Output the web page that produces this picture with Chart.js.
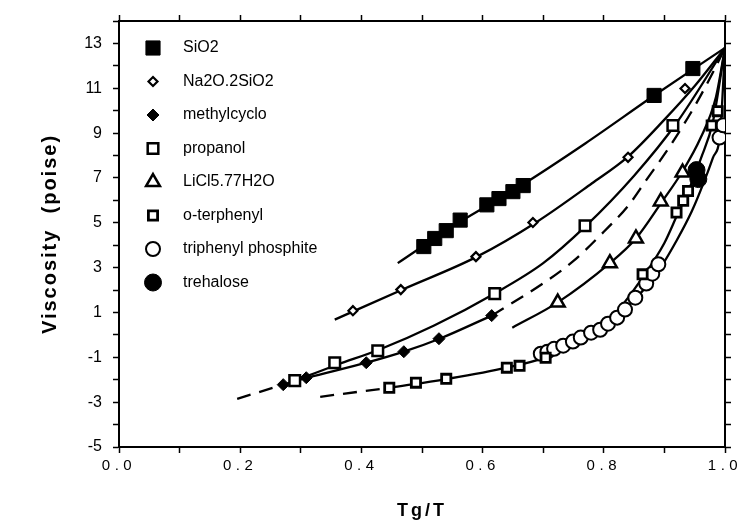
<!DOCTYPE html>
<html>
<head>
<meta charset="utf-8">
<title>Viscosity vs Tg/T</title>
<script src="https://cdn.jsdelivr.net/npm/chart.js@4.4.1/dist/chart.umd.min.js"></script>
<style>
  html, body { margin: 0; padding: 0; background: #fff; }
</style>
</head>
<body>
<canvas id="chart" width="744" height="532"></canvas>
<script>
// measured points, [Tg/T, log viscosity]
const sio2 = [[0.503, 3.94], [0.521, 4.30], [0.540, 4.65], [0.563, 5.12], [0.607, 5.80], [0.627, 6.08], [0.650, 6.39], [0.667, 6.66], [0.883, 10.68], [0.947, 11.88]];
const na2o = [[0.386, 1.08], [0.465, 2.02], [0.589, 3.49], [0.683, 5.01], [0.840, 7.92], [0.934, 10.99]];
const methylcyclo = [[0.271, -2.22], [0.309, -1.91], [0.408, -1.24], [0.470, -0.75], [0.528, -0.17], [0.615, 0.86]];
const propanol = [[0.290, -2.04], [0.356, -1.24], [0.427, -0.71], [0.620, 1.84], [0.769, 4.87], [0.914, 9.34]];
const licl = [[0.724, 1.44], [0.810, 3.20], [0.853, 4.30], [0.894, 5.95], [0.930, 7.24]];
const oTerphenyl = [[0.446, -2.36], [0.490, -2.13], [0.540, -1.96], [0.640, -1.46], [0.661, -1.38], [0.704, -1.02], [0.864, 2.70], [0.920, 5.46], [0.931, 5.98], [0.939, 6.42], [0.978, 9.34], [0.988, 9.98]];
const triphenyl = [[0.696, -0.84], [0.707, -0.75], [0.718, -0.62], [0.733, -0.48], [0.749, -0.30], [0.762, -0.12], [0.779, 0.10], [0.794, 0.23], [0.807, 0.50], [0.822, 0.77], [0.835, 1.13], [0.852, 1.66], [0.870, 2.29], [0.880, 2.73], [0.890, 3.15], [0.991, 8.80], [0.997, 9.35]];
const trehalose = [[0.953, 7.35], [0.956, 6.95]];

// fitted curves
const sio2Fit = [[0.46, 3.2], [0.56, 5.0], [0.66, 6.6], [0.77, 8.55], [0.88, 10.62], [0.95, 11.9], [1.0, 12.8]];
const na2oFit = [[0.356, 0.68], [0.47, 2.05], [0.59, 3.48], [0.69, 5.05], [0.78, 6.75], [0.84, 7.95], [0.90, 9.6], [0.95, 11.1], [1.0, 12.8]];
const methylFit = [[0.271, -2.22], [0.31, -1.92], [0.41, -1.23], [0.47, -0.75], [0.53, -0.16], [0.615, 0.86]];
const methylLow = [[0.195, -2.85], [0.271, -2.22]];
const methylHigh = [[0.615, 0.86], [0.70, 2.3], [0.75, 3.3], [0.80, 4.6], [0.84, 5.75], [0.87, 6.9], [0.91, 8.45], [0.95, 10.2], [0.98, 11.7], [1.0, 12.8]];
const propanolFit = [[0.285, -2.1], [0.36, -1.33], [0.43, -0.65], [0.52, 0.42], [0.62, 1.85], [0.70, 3.2], [0.77, 4.85], [0.85, 7.1], [0.92, 9.45], [1.0, 12.8]];
const liclFit = [[0.649, 0.32], [0.724, 1.45], [0.81, 3.2], [0.853, 4.3], [0.895, 5.9], [0.93, 7.3], [0.96, 8.8], [0.985, 10.6], [1.0, 12.8]];
const otpLow = [[0.332, -2.76], [0.446, -2.36]];
const otpFit = [[0.446, -2.36], [0.54, -1.97], [0.64, -1.46], [0.704, -1.0], [0.76, -0.3], [0.82, 1.0], [0.865, 2.6], [0.90, 4.1], [0.922, 5.4], [0.94, 6.45], [0.96, 7.85], [0.98, 9.5], [1.0, 12.8]];
const tppFit = [[0.696, -0.84], [0.75, -0.32], [0.80, 0.35], [0.85, 1.55], [0.89, 2.85], [0.92, 4.2], [0.945, 5.5], [0.965, 6.8], [0.98, 7.9], [0.992, 9.0], [1.0, 12.8]];

const xLabels = ['0.0', '0.2', '0.4', '0.6', '0.8', '1.0'];
const yLabels = ['-5', '-3', '-1', '1', '3', '5', '7', '9', '11', '13'];

const FONT = '"Liberation Sans", Arial, Helvetica, sans-serif';
const toXY = arr => arr.map(p => ({ x: p[0], y: p[1] }));

function marks(label, pts, style, radius, filled, border) {
  return {
    label: label,
    data: toXY(pts),
    pointStyle: style,
    pointRadius: radius,
    pointHoverRadius: radius,
    pointBackgroundColor: filled ? '#000' : '#fff',
    pointBorderColor: '#000',
    pointBorderWidth: border,
    showLine: false,
    inLegend: true,
    order: 0
  };
}

function curve(pts, dashed) {
  return {
    data: toXY(pts),
    showLine: true,
    borderColor: '#000',
    borderWidth: 2.3,
    borderDash: dashed ? [14, 9] : [],
    pointRadius: 0,
    pointHoverRadius: 0,
    cubicInterpolationMode: 'monotone',
    fill: false,
    order: 5
  };
}

// legend drawn inside the plot, top-left
const insideLegend = {
  id: 'insideLegend',
  afterDatasetsDraw(chart) {
    const ctx = chart.ctx;
    const area = chart.chartArea;
    let row = 0;
    ctx.save();
    chart.data.datasets.forEach(ds => {
      if (!ds.inLegend) return;
      const y = area.top + 27 + row * 33.5;
      ctx.fillStyle = ds.pointBackgroundColor;
      ctx.strokeStyle = '#000';
      ctx.lineWidth = ds.pointBorderWidth;
      Chart.helpers.drawPoint(ctx, {
        pointStyle: ds.pointStyle,
        radius: ds.pointRadius,
        rotation: 0,
        borderWidth: ds.pointBorderWidth
      }, area.left + 34, y);
      ctx.fillStyle = '#000';
      ctx.font = '16px ' + FONT;
      ctx.textBaseline = 'middle';
      ctx.textAlign = 'left';
      ctx.fillText(ds.label, area.left + 64, y);
      row++;
    });
    ctx.restore();
  }
};

// the axis texts are spaced out in the figure
const spacing = [['x', 'drawLabels', '4.5px'], ['x', 'drawTitle', '3px'], ['y', 'drawTitle', '2px']];
const spacedText = {
  id: 'spacedText',
  afterLayout(chart) {
    spacing.forEach(([id, name, gap]) => {
      const sc = chart.scales[id];
      const flag = '_spaced_' + name;
      if (sc[flag]) return;
      sc[flag] = true;
      const orig = sc[name];
      sc[name] = function (area) {
        const ctx = this.ctx;
        ctx.save();
        ctx.letterSpacing = gap;
        orig.call(this, area);
        ctx.restore();
      };
    });
  }
};

const frame = { display: true, color: '#000', width: 2 };
const tickGrid = { drawOnChartArea: false, drawTicks: true, tickLength: 6, tickWidth: 1.5, tickColor: '#000' };

new Chart(document.getElementById('chart'), {
  type: 'scatter',
  data: {
    datasets: [
      marks('SiO2', sio2, 'rect', 10, true, 1),
      marks('Na2O.2SiO2', na2o, 'rectRot', 4.5, false, 2.2),
      marks('methylcyclo', methylcyclo, 'rectRot', 6, true, 1),
      marks('propanol', propanol, 'rect', 7.5, false, 2.5),
      marks('LiCl5.77H2O', licl, 'triangle', 8, false, 2.5),
      marks('o-terphenyl', oTerphenyl, 'rect', 6.5, false, 2.8),
      marks('triphenyl phosphite', triphenyl, 'circle', 7, false, 2),
      marks('trehalose', trehalose, 'circle', 8.5, true, 1),
      curve(sio2Fit, false),
      curve(na2oFit, false),
      curve(methylFit, false),
      curve(methylLow, true),
      curve(methylHigh, true),
      curve(propanolFit, false),
      curve(liclFit, false),
      curve(otpLow, true),
      curve(otpFit, false),
      curve(tppFit, false)
    ]
  },
  options: {
    responsive: false,
    animation: false,
    layout: { padding: 0 },
    plugins: { legend: { display: false }, tooltip: { enabled: false } },
    scales: {
      x: {
        type: 'linear', position: 'bottom', min: 0, max: 1,
        border: frame, grid: tickGrid,
        ticks: {
          stepSize: 0.1, autoSkip: false, maxRotation: 0, padding: 4, color: '#000',
          font: { family: FONT, size: 15 },
          callback: v => xLabels.includes(v.toFixed(1)) && Math.round(v * 10) % 2 === 0 ? v.toFixed(1) : ''
        },
        title: {
          display: true, text: 'Tg/T', color: '#000',
          font: { family: FONT, size: 18, weight: 'bold' },
          padding: { top: 0, bottom: 10 }
        },
        afterFit: s => { s.height = 85; }
      },
      x2: {
        type: 'linear', position: 'top', axis: 'x', min: 0, max: 1,
        border: frame, grid: tickGrid,
        ticks: { stepSize: 0.1, display: false },
        afterFit: s => { s.height = 21; }
      },
      y: {
        type: 'linear', position: 'left', min: -5, max: 14,
        border: frame, grid: tickGrid,
        ticks: {
          stepSize: 1, autoSkip: false, padding: 11, color: '#000',
          font: { family: FONT, size: 16 },
          callback: v => yLabels.includes(String(v)) ? String(v) : ''
        },
        title: {
          display: true, text: 'Viscosity  (poise)', color: '#000',
          font: { family: FONT, size: 20, weight: 'bold' },
          padding: { top: 38, bottom: 0 }
        },
        afterFit: s => { s.width = 119; }
      },
      y2: {
        type: 'linear', position: 'right', axis: 'y', min: -5, max: 14,
        border: frame, grid: tickGrid,
        ticks: { stepSize: 1, display: false },
        afterFit: s => { s.width = 19; }
      }
    }
  },
  plugins: [spacedText, insideLegend]
});
</script>
</body>
</html>
